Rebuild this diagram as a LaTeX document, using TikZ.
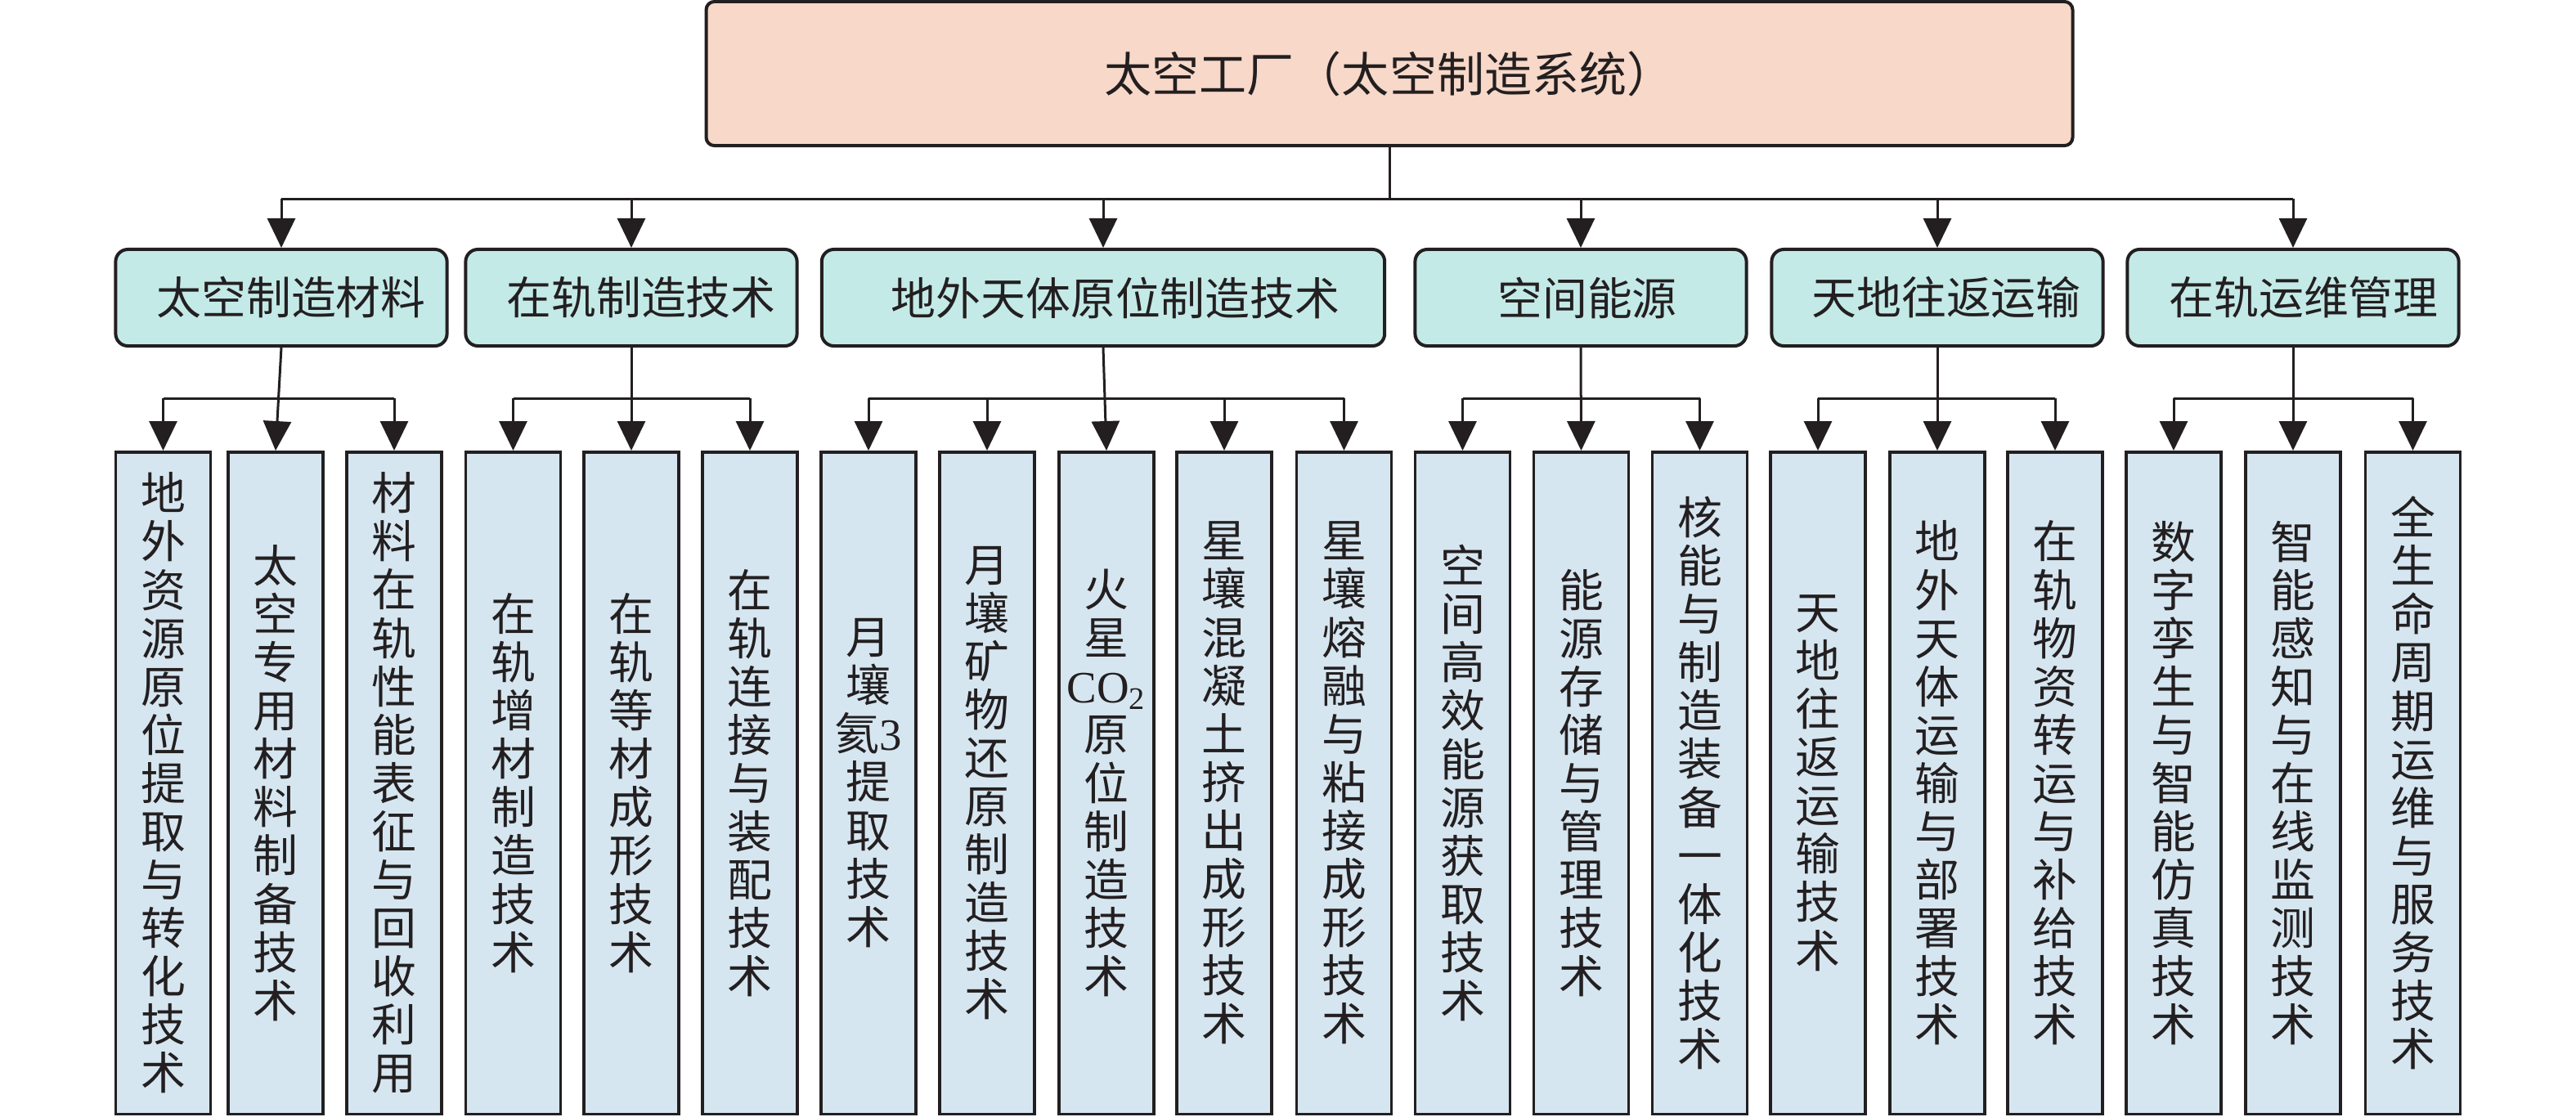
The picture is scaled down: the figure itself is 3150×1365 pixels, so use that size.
\documentclass[tikz,border=0pt]{standalone}
\usepackage{fontspec}
\setmainfont{Noto Sans CJK SC}
\newfontfamily\lat{Liberation Serif}
\usetikzlibrary{arrows.meta}
\definecolor{ink}{RGB}{35,31,32}
\definecolor{peach}{RGB}{247,216,201}
\definecolor{cyanbox}{RGB}{196,234,232}
\definecolor{bluebox}{RGB}{214,230,240}
\begin{document}
\begin{tikzpicture}[x=0.01cm,y=-0.01cm,
  topbox/.style={draw=ink, line width=0.04cm, fill=peach, rounded corners=0.1cm, minimum width=16.7cm, minimum height=1.76cm, inner sep=0pt, font=\fontsize{16.5pt}{18pt}\selectfont, text=ink},
  catbox/.style={draw=ink, line width=0.04cm, fill=cyanbox, rounded corners=0.15cm, minimum width=4.05cm, minimum height=1.18cm, inner sep=0pt, font=\fontsize{15.6pt}{17pt}\selectfont, text=ink},
  leafbox/.style={draw=ink, line width=0.035cm, fill=bluebox, minimum width=1.16cm, minimum height=8.09cm, inner sep=0pt, align=center, font=\fontsize{15.6pt}{16.8pt}\selectfont, text=ink},
  conn/.style={draw=ink, line width=0.03cm},
  arr/.style={conn, -{Triangle[length=0.36cm, width=0.34cm]}},
]
\useasboundingbox (0,0) rectangle (3150,1365);

\node[topbox] (root) at (1699,90) {太空工厂（太空制造系统）};

\node[catbox] (c1) at (344,364) {\hspace*{0.24cm}太空制造材料};
\node[catbox] (c2) at (772,364) {\hspace*{0.24cm}在轨制造技术};
\node[catbox, minimum width=6.88cm] (c3) at (1349,364) {\hspace*{0.3cm}地外天体原位制造技术};
\node[catbox] (c4) at (1933,364) {\hspace*{0.16cm}空间能源};
\node[catbox] (c5) at (2369,364) {\hspace*{0.22cm}天地往返运输};
\node[catbox] (c6) at (2804,364) {\hspace*{0.26cm}在轨运维管理};

\node[leafbox] (l1) at (199.5,957.5) {地\\外\\资\\源\\原\\位\\提\\取\\与\\转\\化\\技\\术};
\node[leafbox] (l2) at (337,957.5) {太\\空\\专\\用\\材\\料\\制\\备\\技\\术};
\node[leafbox] (l3) at (482,957.5) {材\\料\\在\\轨\\性\\能\\表\\征\\与\\回\\收\\利\\用};
\node[leafbox] (l4) at (627.5,957.5) {在\\轨\\增\\材\\制\\造\\技\\术};
\node[leafbox] (l5) at (772,957.5) {在\\轨\\等\\材\\成\\形\\技\\术};
\node[leafbox] (l6) at (917,957.5) {在\\轨\\连\\接\\与\\装\\配\\技\\术};
\node[leafbox] (l7) at (1062,957.5) {月\\壤\\氦{\lat 3}\\提\\取\\技\\术};
\node[leafbox] (l8) at (1207,957.5) {月\\壤\\矿\\物\\还\\原\\制\\造\\技\\术};
\node[leafbox] (l9) at (1353,957.5) {火\\星\\{\lat CO\textsubscript{2}}\\原\\位\\制\\造\\技\\术};
\node[leafbox] (l10) at (1497,957.5) {星\\壤\\混\\凝\\土\\挤\\出\\成\\形\\技\\术};
\node[leafbox] (l11) at (1643.5,957.5) {星\\壤\\熔\\融\\与\\粘\\接\\成\\形\\技\\术};
\node[leafbox] (l12) at (1788.5,957.5) {空\\间\\高\\效\\能\\源\\获\\取\\技\\术};
\node[leafbox] (l13) at (1933.5,957.5) {能\\源\\存\\储\\与\\管\\理\\技\\术};
\node[leafbox] (l14) at (2078.5,957.5) {核\\能\\与\\制\\造\\装\\备\\一\\体\\化\\技\\术};
\node[leafbox] (l15) at (2223,957.5) {天\\地\\往\\返\\运\\输\\技\\术};
\node[leafbox] (l16) at (2369,957.5) {地\\外\\天\\体\\运\\输\\与\\部\\署\\技\\术};
\node[leafbox] (l17) at (2513,957.5) {在\\轨\\物\\资\\转\\运\\与\\补\\给\\技\\术};
\node[leafbox] (l18) at (2658,957.5) {数\\字\\孪\\生\\与\\智\\能\\仿\\真\\技\\术};
\node[leafbox] (l19) at (2804,957.5) {智\\能\\感\\知\\与\\在\\线\\监\\测\\技\\术};
\node[leafbox] (l20) at (2950.5,957.5) {全\\生\\命\\周\\期\\运\\维\\与\\服\\务\\技\\术};

% top level connectors
\coordinate (b0) at (1699,243);
\coordinate (b1) at (0,487);
\draw[conn] (root.south) -- (b0);
\draw[conn] (c1.north |- b0) -- (c6.north |- b0);
\foreach \c in {c1,c2,c3,c4,c5,c6}
  \draw[arr] (\c.north |- b0) -- (\c.north);

% group connectors
\draw[conn] (l1.north |- b1) -- (l3.north |- b1);
\draw[arr] (c1.south) -- (l2.north);
\foreach \l in {l1,l3} \draw[arr] (\l.north |- b1) -- (\l.north);

\draw[conn] (l4.north |- b1) -- (l6.north |- b1);
\draw[arr] (c2.south) -- (l5.north);
\foreach \l in {l4,l6} \draw[arr] (\l.north |- b1) -- (\l.north);

\draw[conn] (l7.north |- b1) -- (l11.north |- b1);
\draw[arr] (c3.south) -- (l9.north);
\foreach \l in {l7,l8,l10,l11} \draw[arr] (\l.north |- b1) -- (\l.north);

\draw[conn] (l12.north |- b1) -- (l14.north |- b1);
\draw[arr] (c4.south) -- (l13.north);
\foreach \l in {l12,l14} \draw[arr] (\l.north |- b1) -- (\l.north);

\draw[conn] (l15.north |- b1) -- (l17.north |- b1);
\draw[arr] (c5.south) -- (l16.north);
\foreach \l in {l15,l17} \draw[arr] (\l.north |- b1) -- (\l.north);

\draw[conn] (l18.north |- b1) -- (l20.north |- b1);
\draw[arr] (c6.south) -- (l19.north);
\foreach \l in {l18,l20} \draw[arr] (\l.north |- b1) -- (\l.north);
\end{tikzpicture}
\end{document}
